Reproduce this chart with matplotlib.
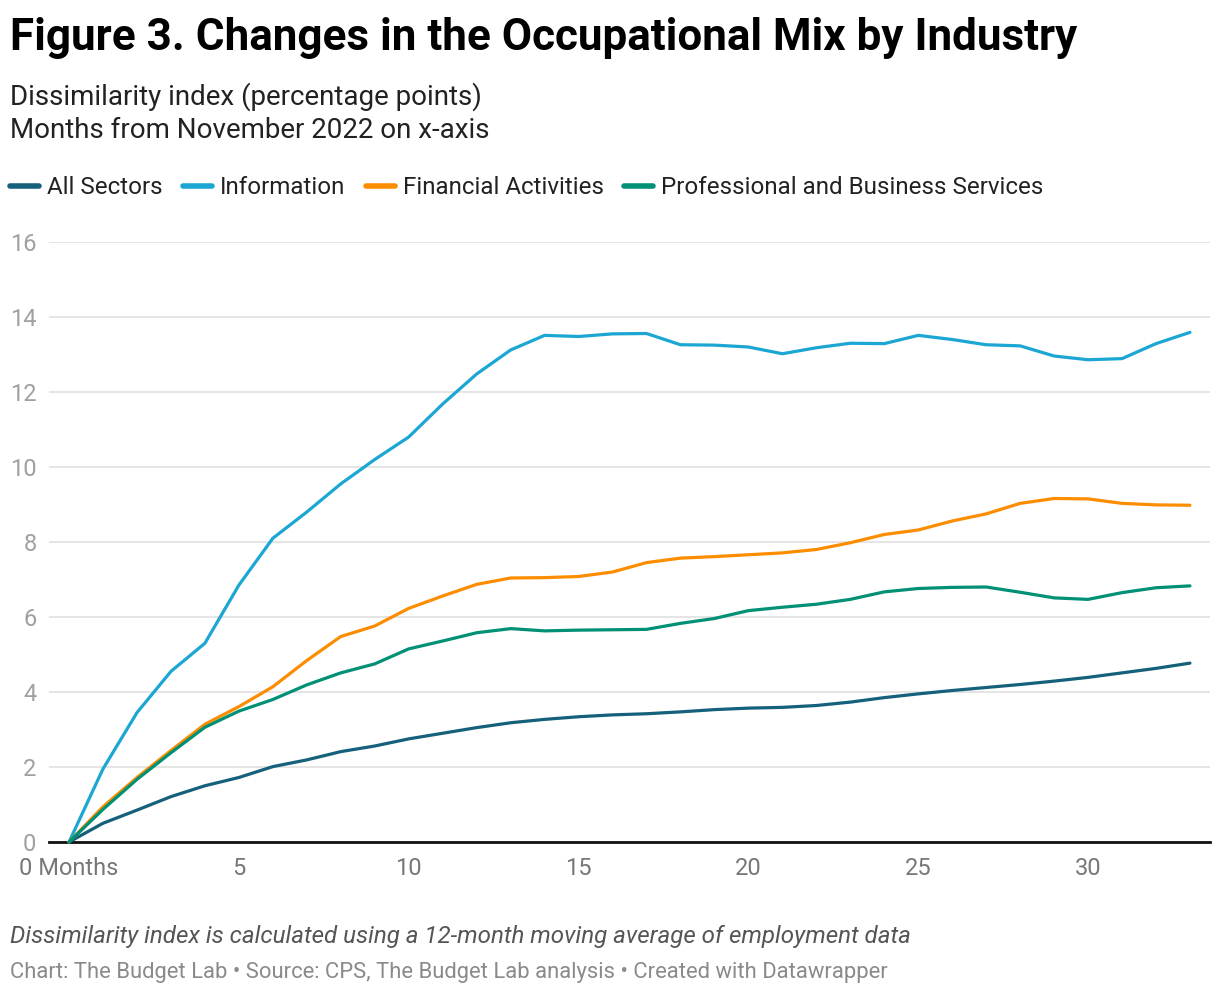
import matplotlib
matplotlib.use("Agg")
import matplotlib.pyplot as plt
from matplotlib.lines import Line2D

months = list(range(34))
all_sectors = [0, 0.5, 0.85, 1.21, 1.5, 1.72, 2.01, 2.19, 2.41, 2.56, 2.75, 2.9, 3.05, 3.18, 3.27,
               3.34, 3.39, 3.42, 3.47, 3.53, 3.57, 3.59, 3.64, 3.73, 3.85, 3.95, 4.04, 4.12, 4.2,
               4.29, 4.39, 4.51, 4.63, 4.77]
information = [0, 1.95, 3.45, 4.55, 5.3, 6.85, 8.1, 8.8, 9.55, 10.2, 10.8, 11.68, 12.48, 13.12,
               13.51, 13.48, 13.55, 13.56, 13.26, 13.25, 13.2, 13.02, 13.18, 13.3, 13.29, 13.51,
               13.4, 13.26, 13.23, 12.96, 12.86, 12.89, 13.29, 13.59]
financial = [0, 0.94, 1.72, 2.44, 3.14, 3.61, 4.14, 4.84, 5.48, 5.76, 6.23, 6.56, 6.87, 7.04,
             7.05, 7.08, 7.2, 7.45, 7.57, 7.61, 7.66, 7.71, 7.8, 7.98, 8.2, 8.32, 8.56, 8.75,
             9.03, 9.16, 9.15, 9.03, 8.99, 8.98]
professional = [0, 0.87, 1.67, 2.38, 3.06, 3.49, 3.8, 4.19, 4.51, 4.75, 5.15, 5.36, 5.58, 5.69,
                5.63, 5.65, 5.66, 5.67, 5.83, 5.96, 6.17, 6.26, 6.34, 6.47, 6.67, 6.76, 6.79, 6.8,
                6.66, 6.51, 6.47, 6.65, 6.78, 6.83]

series_names = ["All Sectors", "Information", "Financial Activities",
                "Professional and Business Services"]
colors = ["#15607a", "#1ba6d3", "#fd8d00", "#009076"]
x_ticks = [0, 5, 10, 15, 20, 25, 30]
x_labels = ["0 Months", "5", "10", "15", "20", "25", "30"]
y_ticks = [0, 2, 4, 6, 8, 10, 12, 14, 16]

plt.rcParams['font.family'] = ['Roboto', 'DejaVu Sans']

W, H = 1220, 996
fig = plt.figure(figsize=(W / 100, H / 100), dpi=100)
ax = fig.add_axes([49 / W, (H - 842) / H, (1210 - 49) / W, (842 - 242) / H])

data = [all_sectors, information, financial, professional]
for vals, c, name in zip(data, colors, series_names):
    ax.plot(months, vals, color=c, lw=2.3, solid_capstyle='round', solid_joinstyle='round',
            label=name, zorder=3, clip_on=False)

ax.set_xlim(-0.59, 33.59)
ax.set_ylim(0, 16)
ax.set_yticks(y_ticks)
ax.set_yticklabels([str(v) for v in y_ticks])
ax.set_xticks(x_ticks)
ax.set_xticklabels(x_labels)
ax.tick_params(axis='both', length=0, labelsize=17)
ax.tick_params(axis='y', pad=9, labelcolor='#a0a0a0')
ax.tick_params(axis='x', pad=11, labelcolor='#777777')
ax.grid(axis='y', color='#e3e3e3', lw=1.3, zorder=0)
ax.grid(axis='x', visible=False)
for s in ['top', 'right', 'left']:
    ax.spines[s].set_visible(False)
ax.spines['bottom'].set_color('#111111')
ax.spines['bottom'].set_linewidth(2.0)
ax.spines['bottom'].set_zorder(2)

# Title and subtitle
fig.text(10 / W, 1 - 38 / H, "Figure 3. Changes in the Occupational Mix by Industry",
         fontsize=31.7, fontweight='bold', color='#000000', va='center', ha='left')
fig.text(10 / W, 1 - 97 / H, "Dissimilarity index (percentage points)",
         fontsize=20, color='#222222', va='center', ha='left')
fig.text(10 / W, 1 - 130 / H, "Months from November 2022 on x-axis",
         fontsize=20, color='#222222', va='center', ha='left')

# Legend
handles = [Line2D([0], [0], color=c, lw=4, solid_capstyle='round') for c in colors]
leg = fig.legend(handles, series_names, loc='center left',
                 bbox_to_anchor=(10 / W, 1 - 188 / H), ncol=4, frameon=False,
                 fontsize=17.4, handlelength=1.2, handletextpad=0.35,
                 columnspacing=0.82, borderaxespad=0, borderpad=0)
for t in leg.get_texts():
    t.set_color('#222222')

# Notes
fig.text(10 / W, 1 - 936 / H,
         "Dissimilarity index is calculated using a 12-month moving average of employment data",
         fontsize=17.4, style='italic', color='#555555', va='center', ha='left')
fig.text(10 / W, 1 - 972 / H,
         "Chart: The Budget Lab \u2022 Source: CPS, The Budget Lab analysis \u2022 Created with Datawrapper",
         fontsize=15.8, color='#8a8a8a', va='center', ha='left')

fig.savefig("out.png", dpi=100, facecolor='white')
